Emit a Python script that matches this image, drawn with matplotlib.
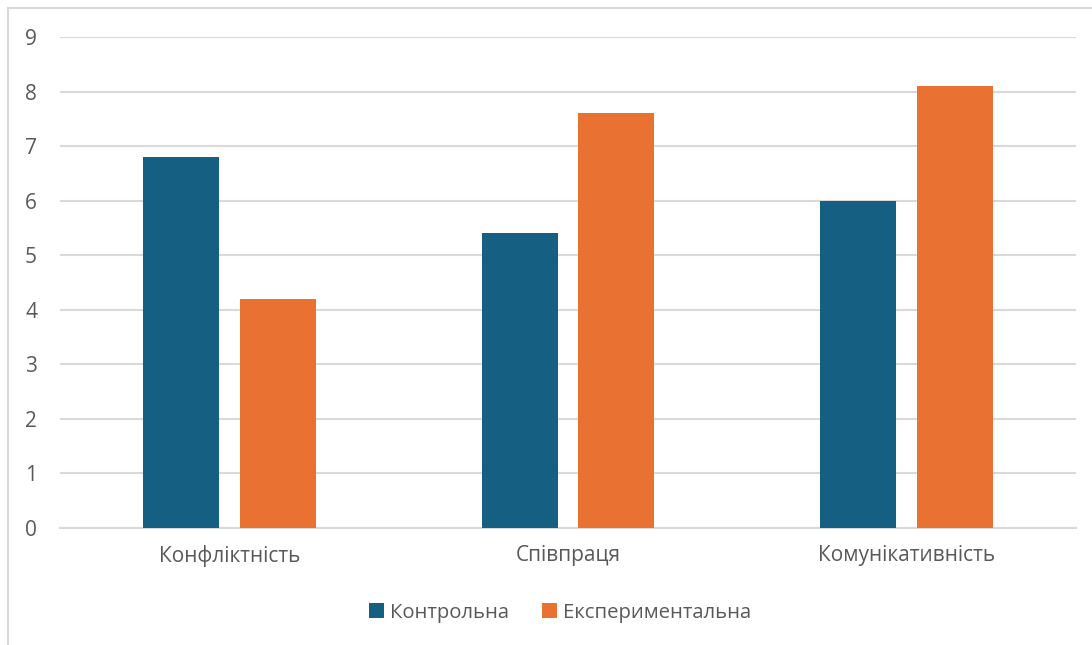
import matplotlib
matplotlib.use('Agg')
import matplotlib.pyplot as plt
import numpy as np
from matplotlib.patches import Rectangle

categories = ['Конфліктність', 'Співпраця', 'Комунікативність']
control = [6.8, 5.4, 6.0]
experimental = [4.2, 7.6, 8.1]
series_names = ['Контрольна', 'Експериментальна']

plt.rcParams['font.family'] = ['Open Sans', 'DejaVu Sans']

fig = plt.figure(figsize=(10.92, 6.45), dpi=100)
# chart area border (right and bottom edges are cut off in the original)
fig.patches.append(Rectangle((8 / 1092, -0.1), 1.2, 1 - 8 / 645 + 0.1,
                             transform=fig.transFigure, fill=False,
                             edgecolor='#D9D9D9', linewidth=1.5))

ax = fig.add_axes([60 / 1092, 1 - 528 / 645, (1076 - 60) / 1092, (528 - 37) / 645])

x = np.arange(len(categories))
w = 0.224
off = 0.143
ax.bar(x - off, control, w, color='#156082', label=series_names[0], zorder=3)
ax.bar(x + off, experimental, w, color='#E97132', label=series_names[1], zorder=3)

ax.set_xlim(-0.5, 2.5)
ax.set_ylim(0, 9)
ax.set_yticks(range(10))
ax.set_xticks(x)
ax.set_xticklabels(categories)
ax.grid(axis='y', color='#D9D9D9', linewidth=1.5, zorder=0)
for s in ['top', 'right', 'left']:
    ax.spines[s].set_visible(False)
ax.spines['bottom'].set_color('#D9D9D9')
ax.spines['bottom'].set_linewidth(1.5)
ax.tick_params(axis='both', length=0, labelsize=15, colors='#595959')
ax.tick_params(axis='y', pad=16.5)
ax.tick_params(axis='x', pad=12)

ax.legend(loc='upper center', bbox_to_anchor=(0.492, -0.115), ncol=2, frameon=False,
          fontsize=14.6, labelcolor='#595959', handlelength=0.75, handleheight=0.75,
          handletextpad=0.3, columnspacing=1.6)

fig.savefig('out.png', dpi=100)
